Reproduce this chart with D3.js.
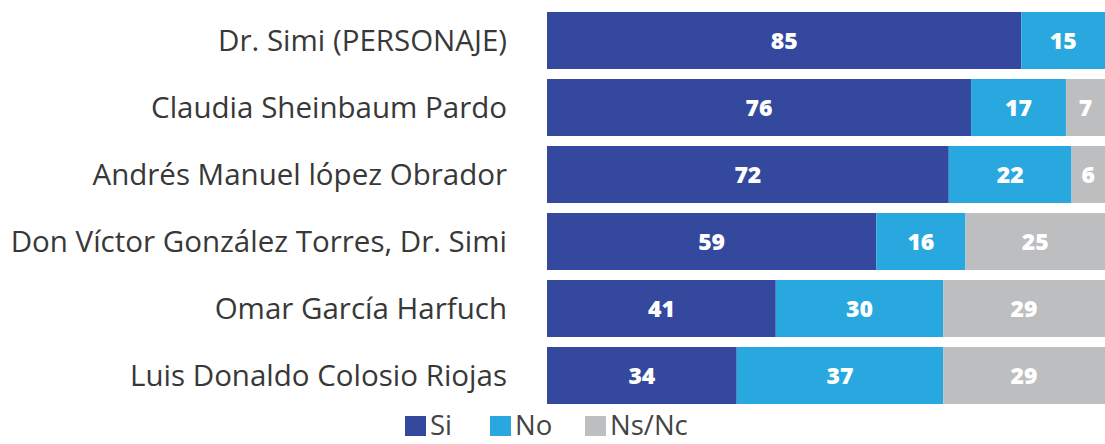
<!DOCTYPE html>
<html><head><meta charset="utf-8">
<script src="https://cdn.jsdelivr.net/npm/d3@7"></script>
<style>body{margin:0;background:#fff}svg{display:block}</style>
</head><body>
<svg id="c" width="1105" height="444"></svg>
<script>
const categories = ["Dr. Simi (PERSONAJE)","Claudia Sheinbaum Pardo","Andrés Manuel lópez Obrador","Don Víctor González Torres, Dr. Simi","Omar García Harfuch","Luis Donaldo Colosio Riojas"];
const seriesNames = ["Si","No","Ns/Nc"];
const siValues = [85,76,72,59,41,34];
const noValues = [15,17,22,16,30,37];
const nsValues = [0,7,6,25,29,29];
const colors = ["#34499e","#29a8e0","#bdbec0"];

const svg = d3.select("#c");
const x = d3.scaleLinear().domain([0,100]).range([547,1105]);
const y = d3.scaleBand().domain(categories).range([12,404]).paddingInner(10/67).paddingOuter(0);
const color = d3.scaleOrdinal().domain(seriesNames).range(colors);

const rows = categories.map((c,i)=>({cat:c,"Si":siValues[i],"No":noValues[i],"Ns/Nc":nsValues[i]}));
const stacked = d3.stack().keys(seriesNames)(rows);

const g = svg.append("g");
stacked.forEach(layer=>{
  const lg = g.append("g");
  lg.selectAll("rect").data(layer).join("rect")
    .attr("x",d=>x(d[0])).attr("y",d=>y(d.data.cat))
    .attr("width",d=>x(d[1])-x(d[0])).attr("height",y.bandwidth())
    .attr("fill",color(layer.key));
  lg.selectAll("text").data(layer.filter(d=>d[1]-d[0]>0)).join("text")
    .attr("x",d=>(x(d[0])+x(d[1]))/2).attr("y",d=>y(d.data.cat)+y.bandwidth()/2)
    .attr("dy","0.36em").attr("text-anchor","middle")
    .attr("fill","#fff").attr("font-family","Open Sans, sans-serif").attr("font-weight",800)
    .attr("font-size",23).text(d=>d[1]-d[0]);
});

const yAxis = d3.axisLeft(y).tickSize(0).tickPadding(0);
const ax = svg.append("g").attr("transform","translate(507,0)").call(yAxis);
ax.select(".domain").remove();
ax.selectAll("text").attr("font-family","Open Sans, sans-serif").attr("font-size",29.5).attr("fill","#383838").attr("dy","0.35em");

const legX = [405,490,585];
const leg = svg.append("g");
seriesNames.forEach((s,i)=>{
  leg.append("rect").attr("x",legX[i]).attr("y",416).attr("width",21).attr("height",20).attr("fill",color(s));
  leg.append("text").attr("x",legX[i]+25).attr("y",435).attr("font-family","Open Sans, sans-serif").attr("font-size",27.5).attr("fill","#444").text(s);
});
</script>
</body></html>
